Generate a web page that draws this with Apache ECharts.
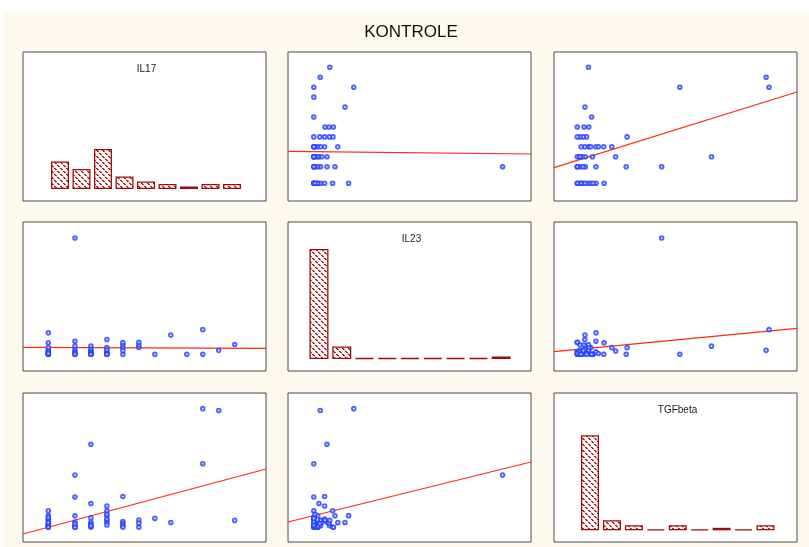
<!DOCTYPE html>
<html>
<head>
<meta charset="utf-8">
<script src="https://cdn.jsdelivr.net/npm/echarts@6/dist/echarts.min.js"></script>
<style>
  html, body { margin: 0; padding: 0; background: #ffffff; }
  #chart { width: 809px; height: 547px; }
</style>
</head>
<body>
<div id="chart"></div>
<script>
// ---- data: one entry per subject (control group) ----
const variables = ['IL17', 'IL23', 'TGFbeta'];

const IL17 = [
  2, 2, 2, 2, 2, 2, 2, 2, 2, 2, 2,
  7, 7, 7, 7, 7, 7, 7, 7,
  10, 10, 10, 10, 10, 10, 10, 10,
  13, 13, 13, 13, 13, 13, 13, 13,
  16, 16, 16, 16, 16,
  19, 19, 19,
  22, 25, 28, 31, 31, 34, 37
];
const IL23 = [
  8.7, 4.7, 0, 0.3, 1, 1.7, 2.7, 0, 0, 1, 0.3,
  47.2, 0, 5.3, 3.3, 1.7, 1, 0.3, 0,
  3.3, 1.3, 0, 2, 0, 1, 0.3, 0,
  6, 2.7, 0, 1, 1.7, 0.3, 0, 0,
  2.7, 0, 1.5, 3.9, 4.8,
  2.8, 3.8, 4.9,
  0, 7.8, 0, 0, 10, 1.6, 4
];
const TGFbeta = [
  9.8, 14, 0, 1.4, 2.8, 5.6, 7, 8.3, 2, 0, 4,
  44, 25.5, 9.7, 4.2, 1.4, 0, 3, 0,
  70, 20, 7.9, 4.2, 2.5, 0.8, 0, 1.4,
  3.9, 18, 13.8, 9.7, 5.9, 11, 2, 7,
  26, 4.8, 3.1, 1.4, 0,
  6, 3.5, 0,
  7.5, 4, null, 53.5, 100, 98.5, 5.8
];

// histogram counts (9 bins per variable)
const histIL17 = [11, 8, 16, 5, 3, 2, 1, 2, 2];
const histIL23 = [44, 5, 0, 0, 0, 0, 0, 0, 1];
const histTGFbeta = [38, 4, 2, 0, 2, 0, 1, 0, 2];

// fitted regression lines: y value at the left and right edge of each panel
const fitIL17onIL23 = [11.66, 10.84];
const fitIL17onTGFbeta = [6.71, 29.55];
const fitIL23onIL17 = [2.84, 2.43];
const fitIL23onTGFbeta = [1.05, 10.55];
const fitTGFbetaonIL17 = [-5.65, 49.15];
const fitTGFbetaonIL23 = [4.46, 55.05];

// ---- layout ----
const columns = { IL17: IL17, IL23: IL23, TGFbeta: TGFbeta };
const hists = { IL17: histIL17, IL23: histIL23, TGFbeta: histTGFbeta };
const fits = {
  'IL17|IL23': fitIL17onIL23, 'IL17|TGFbeta': fitIL17onTGFbeta,
  'IL23|IL17': fitIL23onIL17, 'IL23|TGFbeta': fitIL23onTGFbeta,
  'TGFbeta|IL17': fitTGFbetaonIL17, 'TGFbeta|IL23': fitTGFbetaonIL23
};

const panelLeft = [23, 288, 554];
const panelTop = [52, 222, 393];
const panelW = 243, panelH = 149;

// axis extents per variable when used horizontally / vertically
const xExtent = { IL17: [-2.75, 42.87], IL23: [-6.45, 54.3], TGFbeta: [-12.15, 114.6] };
const yExtent = { IL17: [-3.34, 41.62], IL23: [-6.78, 53.7], TGFbeta: [-12.4, 113.2] };
const histX = { IL17: [-1.721, 9.581], IL23: [-1.361, 9.311], TGFbeta: [-1.641, 9.435] };
const histBarW = { IL17: 18, IL23: 19, TGFbeta: 18 };
const histY = { IL17: [-4.8, 54.8], IL23: [-4.8, 54.8], TGFbeta: [-4.68, 54.92] };

// diagonal "\" hatch used to fill the histogram bars
function hatchPattern() {
  const n = 6;
  const c = document.createElement('canvas');
  c.width = n; c.height = n;
  const g = c.getContext('2d');
  g.fillStyle = '#ffffff';
  g.fillRect(0, 0, n, n);
  for (let i = 0; i < n; i++) {
    g.fillStyle = (i % 3 === 2) ? '#e6bcbc' : '#9c0a0a';
    g.fillRect(i, i, 1, 1);
    g.fillStyle = (i % 3 === 2) ? '#f3dede' : '#c05050';
    g.fillRect((i + 1) % n, i, 1, 1);
  }
  return c;
}
const hatch = hatchPattern();

const grids = [], xAxes = [], yAxes = [], series = [], labels = [];

variables.forEach(function (rowVar, r) {
  variables.forEach(function (colVar, c) {
    const idx = r * 3 + c;
    grids.push({
      left: panelLeft[c], top: panelTop[r], width: panelW, height: panelH,
      show: true, backgroundColor: '#ffffff', borderColor: '#4a4a4a', borderWidth: 1
    });
    if (r === c) {
      xAxes.push({ gridIndex: idx, type: 'value', min: histX[colVar][0], max: histX[colVar][1], show: false });
      yAxes.push({ gridIndex: idx, type: 'value', min: histY[colVar][0], max: histY[colVar][1], show: false });
      series.push({
        type: 'bar', xAxisIndex: idx, yAxisIndex: idx,
        barWidth: histBarW[colVar], barMinHeight: 1, silent: true,
        itemStyle: {
          color: { image: hatch, repeat: 'repeat' },
          borderColor: '#a00c0c', borderWidth: 1.3
        },
        data: hists[colVar].map(function (n, i) { return [i, n]; })
      });
      labels.push({
        type: 'text', silent: true,
        x: panelLeft[c] + panelW / 2 + 2, y: panelTop[r] + 17,
        style: {
          text: rowVar, align: 'center', verticalAlign: 'middle',
          font: '10px "Liberation Sans", Arial, sans-serif', fill: '#1a1a1a'
        }
      });
    } else {
      const xs = columns[colVar], ys = columns[rowVar];
      const xr = xExtent[colVar], yr = yExtent[rowVar];
      xAxes.push({ gridIndex: idx, type: 'value', min: xr[0], max: xr[1], show: false });
      yAxes.push({ gridIndex: idx, type: 'value', min: yr[0], max: yr[1], show: false });
      const pts = [];
      xs.forEach(function (xv, i) {
        if (xv != null && ys[i] != null) pts.push([xv, ys[i]]);
      });
      series.push({
        type: 'scatter', xAxisIndex: idx, yAxisIndex: idx, silent: true,
        symbol: 'emptyCircle', symbolSize: 3.6,
        itemStyle: { color: '#2440ff', borderColor: '#2440ff', borderWidth: 1 },
        data: pts
      });
      const f = fits[rowVar + '|' + colVar];
      series.push({
        type: 'line', xAxisIndex: idx, yAxisIndex: idx, silent: true,
        symbol: 'none', z: 1,
        lineStyle: { color: '#ff2a10', width: 1.2 },
        data: [[xr[0], f[0]], [xr[1], f[1]]]
      });
    }
  });
});

const chart = echarts.init(document.getElementById('chart'), null, { renderer: 'canvas' });
chart.setOption({
  backgroundColor: '#ffffff',
  animation: false,
  graphic: [
    {
      type: 'rect', z: -10, silent: true,
      shape: { x: 4, y: 11, width: 805, height: 536 },
      style: { fill: '#fdf9ef' }
    },
    {
      type: 'text', silent: true, x: 411, y: 32,
      style: {
        text: 'KONTROLE', align: 'center', verticalAlign: 'middle',
        font: '17px "Liberation Sans", Arial, sans-serif', fill: '#111111'
      }
    }
  ].concat(labels),
  grid: grids,
  xAxis: xAxes,
  yAxis: yAxes,
  series: series
});
</script>
</body>
</html>
